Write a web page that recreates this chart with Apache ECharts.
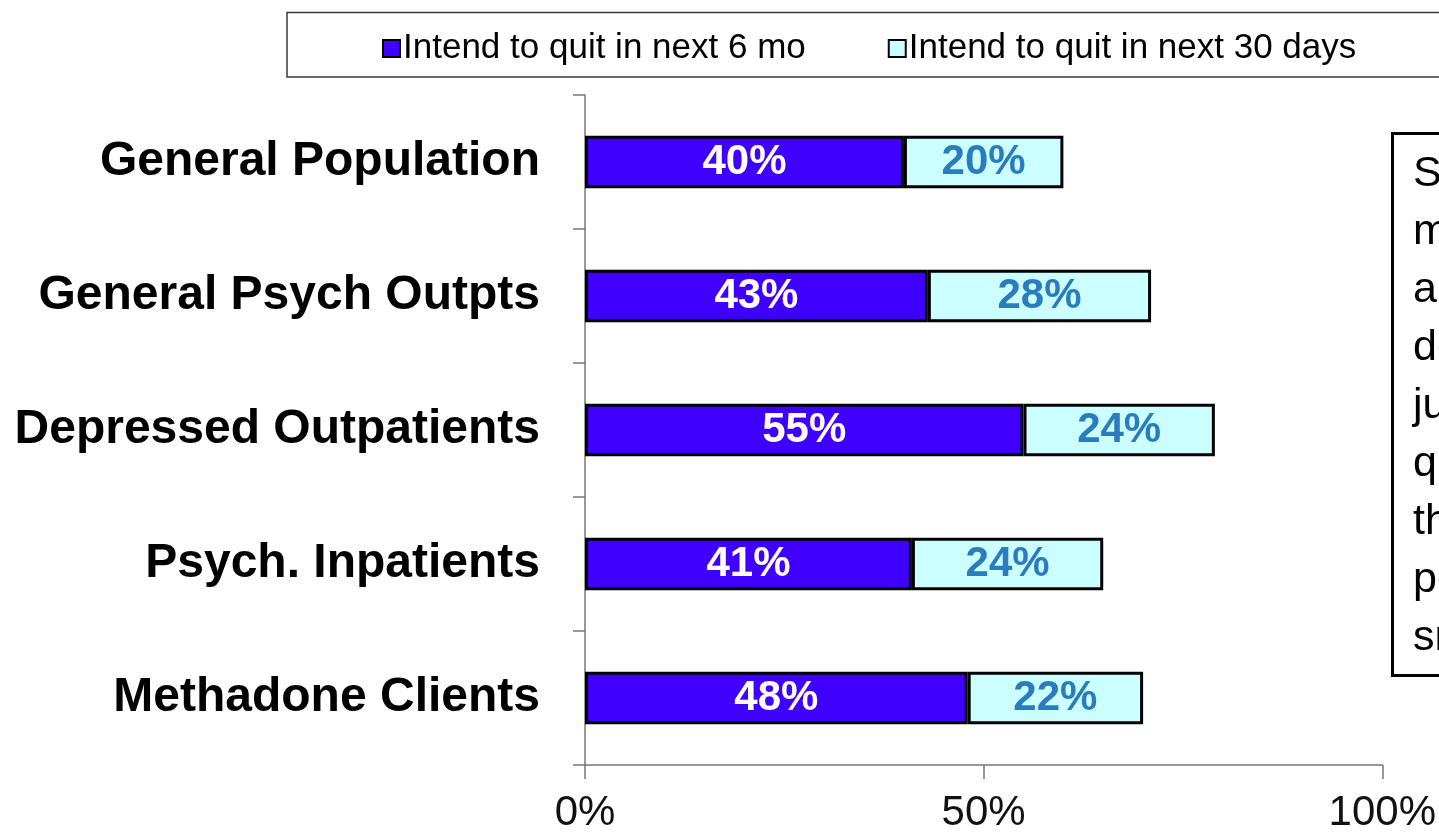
<!DOCTYPE html>
<html>
<head>
<meta charset="utf-8">
<script src="https://cdn.jsdelivr.net/npm/echarts@6/dist/echarts.min.js"></script>
<style>
  html, body { margin: 0; padding: 0; background: #fff; }
  #chart { width: 1439px; height: 834px; }
</style>
</head>
<body>
<div id="chart"></div>
<script>
const categories = [
  'General Population',
  'General Psych Outpts',
  'Depressed Outpatients',
  'Psych. Inpatients',
  'Methadone Clients'
]
const sixMonths = [40, 43, 55, 41, 48]
const thirtyDays = [20, 28, 24, 24, 22]
const seriesNames = ['Intend to quit in next 6 mo', 'Intend to quit in next 30 days']
const xTicks = [0, 50, 100]
// side note, clipped by the right edge in the reference
const noteLines = [
  'Smokers with',
  'mental illness',
  'and addictions',
  'desire to quit',
  'just as much',
  'quit attempts',
  'than the',
  'population',
  'smokers'
]

const FONT = '"Liberation Sans", Arial, sans-serif'
const chart = echarts.init(document.getElementById('chart'))

const noteTexts = noteLines.map((line, i) => ({
  type: 'text',
  left: 1413,
  top: 193 + i * 58 - 40,
  style: { text: line, font: '43px ' + FONT, fill: '#000' }
}))

chart.setOption({
  animation: false,
  backgroundColor: '#fff',
  textStyle: { fontFamily: FONT },
  graphic: [
    {
      type: 'rect',
      z: 0,
      shape: { x: 287, y: 12.5, width: 1300, height: 64.5 },
      style: { fill: '#fff', stroke: '#3a3a3a', lineWidth: 1.5 }
    },
    {
      type: 'rect',
      z: 0,
      shape: { x: 1392.5, y: 133.5, width: 300, height: 542 },
      style: { fill: '#fff', stroke: '#000', lineWidth: 3 }
    },
    ...noteTexts
  ],
  legend: {
    z: 10,
    left: 377,
    top: 26,
    itemWidth: 17,
    itemHeight: 17,
    itemGap: 82,
    icon: 'rect',
    selectedMode: false,
    itemStyle: { borderColor: '#000', borderWidth: 2 },
    textStyle: { fontSize: 35, color: '#000', fontFamily: FONT, padding: [0, 0, 0, -2] },
    data: seriesNames
  },
  grid: { left: 585, right: 55, top: 95, bottom: 69, containLabel: false },
  xAxis: {
    type: 'value',
    min: 0,
    max: 100,
    interval: 50,
    splitLine: { show: false },
    axisLine: { show: true, lineStyle: { color: '#777', width: 1.5 } },
    axisTick: { show: true, length: 14, lineStyle: { color: '#777', width: 1.5 } },
    axisLabel: {
      fontSize: 42,
      color: '#111',
      margin: 27,
      formatter: v => (xTicks.includes(v) ? v + '%' : '')
    }
  },
  yAxis: {
    type: 'category',
    inverse: true,
    data: categories,
    axisLine: { show: true, lineStyle: { color: '#777', width: 1.5 } },
    axisTick: { show: true, length: 12, lineStyle: { color: '#777', width: 1.5 } },
    axisLabel: { fontSize: 48, fontWeight: 'bold', color: '#000', margin: 45 }
  },
  series: [
    {
      name: seriesNames[0],
      type: 'bar',
      stack: 'total',
      barWidth: '39%',
      data: sixMonths,
      itemStyle: { color: '#3f00ff', borderColor: '#000', borderWidth: 3 },
      label: {
        show: true,
        position: 'inside',
        formatter: '{c}%',
        fontSize: 42,
        fontWeight: 'bold',
        color: '#fff'
      }
    },
    {
      name: seriesNames[1],
      type: 'bar',
      stack: 'total',
      barWidth: '39%',
      data: thirtyDays,
      itemStyle: { color: '#ccffff', borderColor: '#000', borderWidth: 3 },
      label: {
        show: true,
        position: 'inside',
        formatter: '{c}%',
        fontSize: 42,
        fontWeight: 'bold',
        color: '#2b7bbf'
      }
    }
  ]
})
</script>
</body>
</html>
